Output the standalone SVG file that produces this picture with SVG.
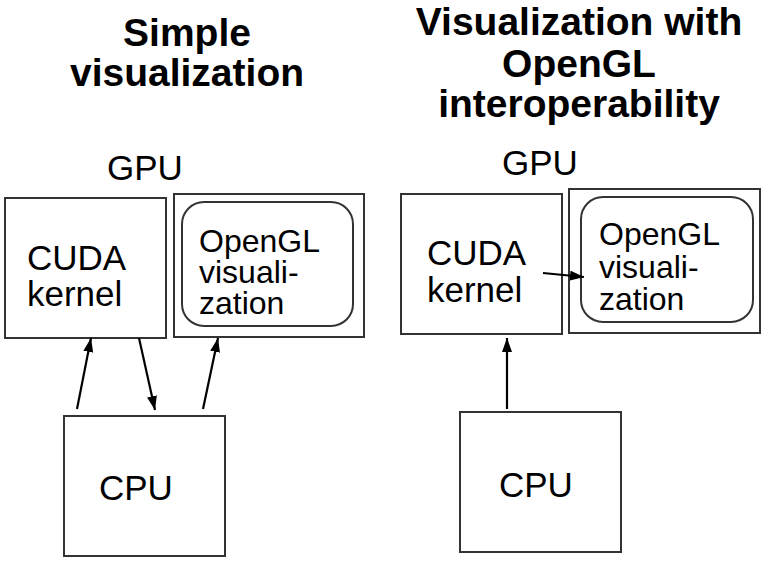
<svg xmlns="http://www.w3.org/2000/svg" width="768" height="566" viewBox="0 0 768 566">
<defs>
<marker id="ah" viewBox="0 0 14 10" refX="14" refY="5" markerWidth="14" markerHeight="10" markerUnits="userSpaceOnUse" orient="auto">
<path d="M0,0 L14,5 L0,10 Z" fill="#000"/>
</marker>
<style>
.box{fill:#fff;stroke:#333;stroke-width:2}
.t{font-family:"Liberation Sans",Arial,sans-serif;fill:#000}
.title{font-size:39px;font-weight:bold;text-anchor:middle}
.lbl{font-size:35px}
.gl{font-size:32px}
.c{stroke:#000;stroke-width:2.2;fill:none;marker-end:url(#ah)}
</style>
</defs>
<rect width="768" height="566" fill="#fff"/>
<g id="title-left" class="t title">
<text x="187" y="46">Simple</text>
<text x="187" y="86">visualization</text>
</g>
<g id="title-right" class="t title">
<text x="579" y="35">Visualization with</text>
<text x="579" y="77">OpenGL</text>
<text x="579" y="117">interoperability</text>
</g>
<text id="gpu-left" class="t lbl" x="107" y="180">GPU</text>
<text id="gpu-right" class="t lbl" x="502" y="175">GPU</text>
<g id="cuda-left">
<rect class="box" x="5" y="198" width="161" height="140"/>
<text class="t lbl" x="27" y="270">CUDA</text>
<text class="t lbl" x="27" y="306">kernel</text>
</g>
<g id="opengl-left">
<rect class="box" x="174" y="194" width="190" height="143"/>
<rect class="box" x="182" y="202" width="171" height="124" rx="22"/>
<text class="t gl" x="199" y="252">OpenGL</text>
<text class="t gl" x="199" y="283">visuali-</text>
<text class="t gl" x="199" y="314">zation</text>
</g>
<g id="cpu-left">
<rect class="box" x="64" y="416" width="161" height="140"/>
<text class="t lbl" x="99" y="500">CPU</text>
</g>
<g id="cuda-right">
<rect class="box" x="401" y="194" width="161" height="140"/>
<text class="t lbl" x="427" y="265">CUDA</text>
<text class="t lbl" x="427" y="302">kernel</text>
</g>
<g id="opengl-right">
<rect class="box" x="569" y="189" width="191" height="144"/>
<rect class="box" x="581" y="197" width="172" height="125" rx="22"/>
<text class="t gl" x="599" y="245">OpenGL</text>
<text class="t gl" x="599" y="278">visuali-</text>
<text class="t gl" x="599" y="310">zation</text>
</g>
<g id="cpu-right">
<rect class="box" x="460" y="412" width="161" height="140"/>
<text class="t lbl" x="499" y="497">CPU</text>
</g>
<g id="connectors">
<line class="c" x1="77" y1="409" x2="91" y2="338"/>
<line class="c" x1="139" y1="338" x2="155" y2="410"/>
<line class="c" x1="203" y1="409" x2="218" y2="338"/>
<line class="c" x1="507" y1="409" x2="507" y2="338"/>
<line class="c" x1="543" y1="273" x2="584" y2="277"/>
</g>
</svg>
